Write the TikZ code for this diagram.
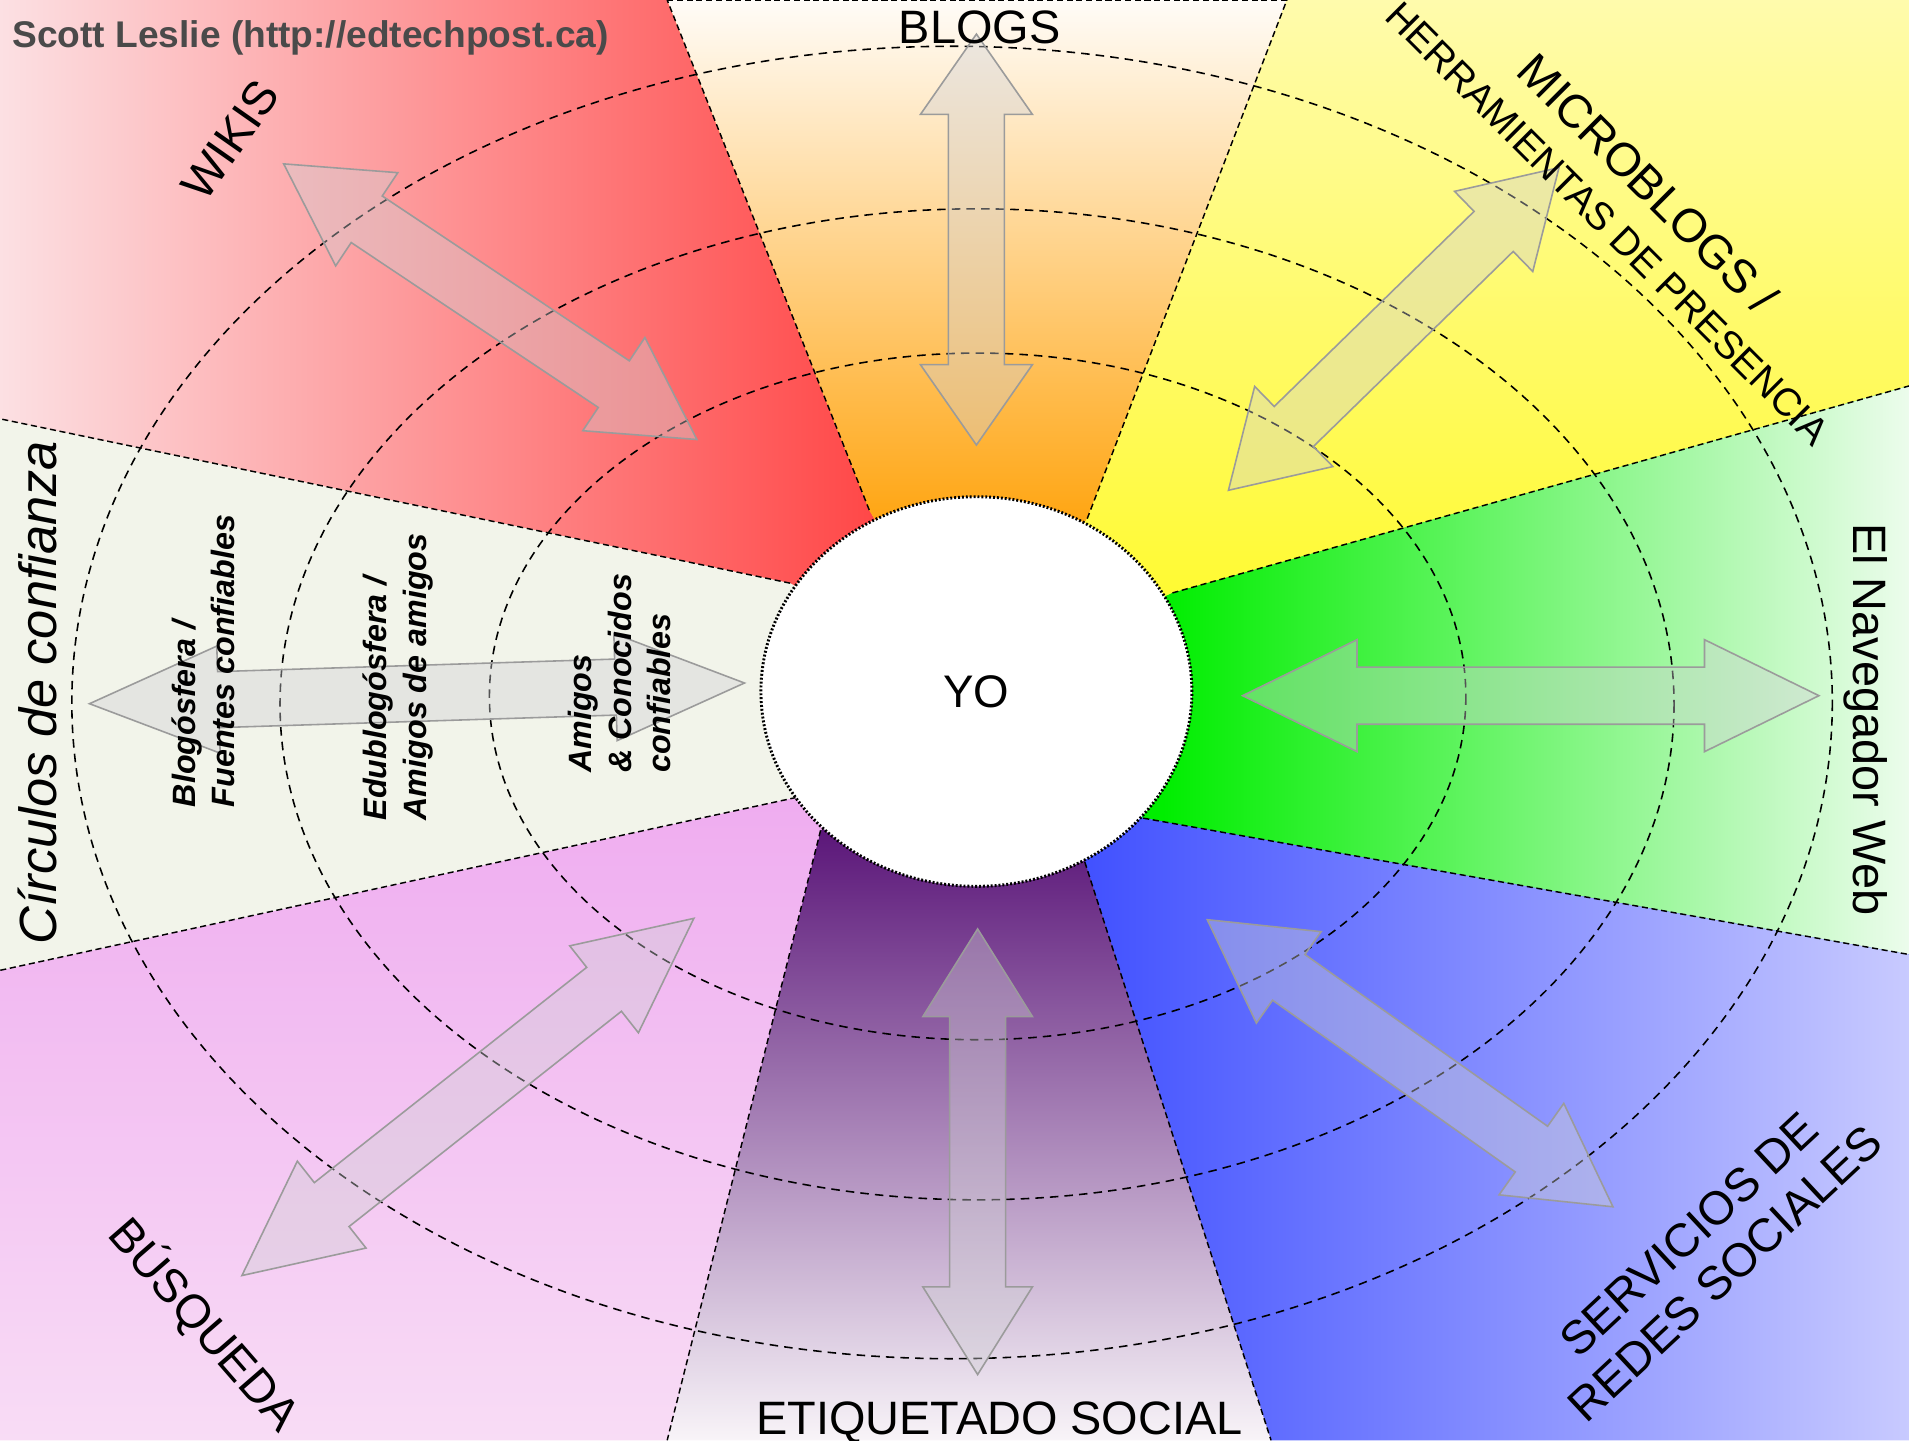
\documentclass[tikz,border=0pt]{standalone}
\usepackage{fontspec}
\setmainfont{Liberation Sans}
\usetikzlibrary{calc,shapes.geometric}
\definecolor{wikiL}{RGB}{252,224,227}
\definecolor{wikiR}{RGB}{255,72,72}
\definecolor{blogT}{RGB}{255,252,248}
\definecolor{blogB}{RGB}{255,166,20}
\definecolor{microT}{RGB}{255,251,172}
\definecolor{microB}{RGB}{255,250,50}
\definecolor{navL}{RGB}{0,238,0}
\definecolor{navR}{RGB}{236,252,236}
\definecolor{servL}{RGB}{64,80,255}
\definecolor{servR}{RGB}{200,202,255}
\definecolor{etiqT}{RGB}{92,24,122}
\definecolor{etiqB}{RGB}{248,244,248}
\definecolor{busqT}{RGB}{239,172,240}
\definecolor{busqB}{RGB}{248,220,245}
\definecolor{circ}{RGB}{242,244,234}
\definecolor{arrfill}{RGB}{208,208,212}
\definecolor{arrline}{RGB}{155,155,155}
\definecolor{credit}{RGB}{74,74,74}
% #1 tip A, #2 tip B, #3 head length, #4 head half width, #5 shaft half width
\newcommand\dblarrow[5]{%
  \coordinate (h1) at ($(#1)!#3!(#2)$);
  \coordinate (h2) at ($(#2)!#3!(#1)$);
  \draw[arr] (#1) -- ($(h1)!#4!90:(#2)$) -- ($(h1)!#5!90:(#2)$)
    -- ($(h2)!#5!-90:(#1)$) -- ($(h2)!#4!-90:(#1)$) -- (#2)
    -- ($(h2)!#4!90:(#1)$) -- ($(h2)!#5!90:(#1)$)
    -- ($(h1)!#5!-90:(#2)$) -- ($(h1)!#4!-90:(#2)$) -- cycle;}
\begin{document}
\begin{tikzpicture}[x=1pt,y=-1pt,
  ring/.style={draw=black, line width=1.3pt, dash pattern=on 7pt off 5pt},
  bound/.style={draw=black, line width=1.2pt, dash pattern=on 5pt off 3pt},
  arr/.style={draw=arrline, line width=1.3pt, fill=arrfill, fill opacity=0.4},
  lbl/.style={inner sep=0pt, font=\fontsize{38.5}{44}\selectfont},
  small/.style={inner sep=0pt, align=left, font=\fontsize{26.5}{32.5}\selectfont\bfseries\itshape},
  yo/.style={ellipse, draw=black, fill=white, line width=2.4pt, dash pattern=on 1.6pt off 1.6pt,
    minimum width=354pt, minimum height=320pt, inner sep=0pt, font=\fontsize{37.5}{40}\selectfont}]
\useasboundingbox (0,0) rectangle (1568,1183);
\clip (0,0) rectangle (1568,1183);
% centre and sector boundary points
\coordinate (C) at (802,567);
\coordinate (P1) at (714,419);  \coordinate (Q1) at (548,0);
\coordinate (P2) at (893,426);  \coordinate (Q2) at (1057,0);
\coordinate (P3) at (963,487);  \coordinate (Q3) at (1568,317);
\coordinate (P4) at (939,672);  \coordinate (Q4) at (1568,784);
\coordinate (P5) at (891,708);  \coordinate (Q5) at (1044,1183);
\coordinate (P6) at (674,682);  \coordinate (Q6) at (548,1183);
\coordinate (P7) at (654,655);  \coordinate (Q7) at (0,797);
\coordinate (P8) at (649,479);  \coordinate (Q8) at (0,344);
% sectors
\begin{scope}
  \clip (C) -- (P8) -- (Q8) -- (0,0) -- (Q1) -- (P1) -- cycle;
  \fill[wikiR] (0,0) rectangle (900,700);
  \shade[left color=wikiL, right color=wikiR] (0,0) rectangle (716,600);
\end{scope}
\begin{scope}
  \clip (C) -- (P1) -- (Q1) -- (Q2) -- (P2) -- cycle;
  \fill[blogB] (500,0) rectangle (1100,700);
  \shade[top color=blogT, bottom color=blogB] (500,0) rectangle (1100,425);
\end{scope}
\begin{scope}
  \clip (C) -- (P2) -- (Q2) -- (1568,0) -- (Q3) -- (P3) -- cycle;
  \fill[microB] (700,0) rectangle (1568,700);
  \shade[top color=microT, bottom color=microB] (700,0) rectangle (1568,490);
\end{scope}
\begin{scope}
  \clip (C) -- (P3) -- (Q3) -- (Q4) -- (P4) -- cycle;
  \fill[navL] (700,250) rectangle (1568,850);
  \shade[left color=navL, right color=navR] (955,250) rectangle (1568,850);
\end{scope}
\begin{scope}
  \clip (C) -- (P4) -- (Q4) -- (1568,1183) -- (Q5) -- (P5) -- cycle;
  \fill[servL] (700,500) rectangle (1568,1183);
  \shade[left color=servL, right color=servR] (885,500) rectangle (1568,1183);
\end{scope}
\begin{scope}
  \clip (C) -- (P5) -- (Q5) -- (Q6) -- (P6) -- cycle;
  \fill[etiqT] (500,500) rectangle (1100,1183);
  \shade[top color=etiqT, bottom color=etiqB] (500,685) rectangle (1100,1183);
\end{scope}
\begin{scope}
  \clip (C) -- (P6) -- (Q6) -- (0,1183) -- (Q7) -- (P7) -- cycle;
  \fill[busqT] (0,500) rectangle (900,1183);
  \shade[top color=busqT, bottom color=busqB] (0,650) rectangle (900,1183);
\end{scope}
\fill[circ] (C) -- (P7) -- (Q7) -- (Q8) -- (P8) -- cycle;
% sector boundaries
\foreach \i in {1,...,8} { \draw[bound] (P\i) -- (Q\i); }
\draw[bound] (Q1) -- (Q2);
% concentric rings
\draw[ring] (803,572) ellipse [x radius=401, y radius=282];
\draw[ring] (802.5,578.5) ellipse [x radius=572.5, y radius=407];
\draw[ring] (782,577) ellipse [x radius=723, y radius=539];
% double arrows
\coordinate (bA) at (802,28);      \coordinate (bB) at (802,365.5);
\coordinate (eA) at (803,763);     \coordinate (eB) at (803,1129);
\coordinate (nA) at (1020.6,571.4);\coordinate (nB) at (1494,571.4);
\coordinate (cA) at (73.5,578);    \coordinate (cB) at (611.5,561);
\coordinate (wA) at (233,134.6);   \coordinate (wB) at (572.4,361);
\coordinate (mA) at (1280.5,137.7);\coordinate (mB) at (1009,402.7);
\coordinate (sA) at (569.9,754.3); \coordinate (sB) at (198.7,1047.7);
\coordinate (rA) at (991.6,755.4); \coordinate (rB) at (1324.8,991.2);
\dblarrow{bA}{bB}{66pt}{46pt}{23pt}
\dblarrow{eA}{eB}{72pt}{45pt}{23pt}
\dblarrow{nA}{nB}{94pt}{46pt}{23.5pt}
\dblarrow{cA}{cB}{106pt}{44pt}{23pt}
\dblarrow{wA}{wB}{82pt}{46pt}{23pt}
\dblarrow{mA}{mB}{75pt}{46pt}{23pt}
\dblarrow{sA}{sB}{94pt}{45.5pt}{23pt}
\dblarrow{rA}{rB}{82pt}{46pt}{23pt}
% centre
\node[yo] (yo) at (802,568) {YO};
% labels
\node[anchor=base west, inner sep=0pt, text=credit, font=\fontsize{30.5}{34}\selectfont\bfseries] (credit) at (10,39) {Scott Leslie (http://edtechpost.ca)};
\node[lbl, anchor=base] (blogs) at (804.6,35.8) {BLOGS};
\node[lbl, anchor=base] (etiq) at (821,1178) {ETIQUETADO SOCIAL};
\node[lbl, anchor=base, rotate=-90] (nav) at (1522,591) {El Navegador Web};
\node[lbl, rotate=55] (wikis) at (189,115) {WIKIS};
\node[lbl, rotate=-49] (busq) at (168,1088) {BÚSQUEDA};
\node[lbl, rotate=43, align=center] (serv) at (1402,1030) {SERVICIOS DE\\REDES SOCIALES};
\node[lbl, rotate=-45, align=center] (micro) at (1338,166) {MICROBLOGS /\\{\fontsize{32}{36}\selectfont HERRAMIENTAS DE PRESENCIA}};
\node[anchor=base, inner sep=0pt, rotate=90, font=\fontsize{43}{48}\selectfont\itshape] (circt) at (46,569) {Círculos de confianza};
\node[small, rotate=90] (blogo) at (167,543) {Blogósfera /\\Fuentes confiables};
\node[small, rotate=90] (edu) at (327,556) {Edublogósfera /\\Amigos de amigos};
\node[small, rotate=90] (amig) at (509,553) {Amigos\\\& Conocidos\\confiables};
\end{tikzpicture}
\end{document}
